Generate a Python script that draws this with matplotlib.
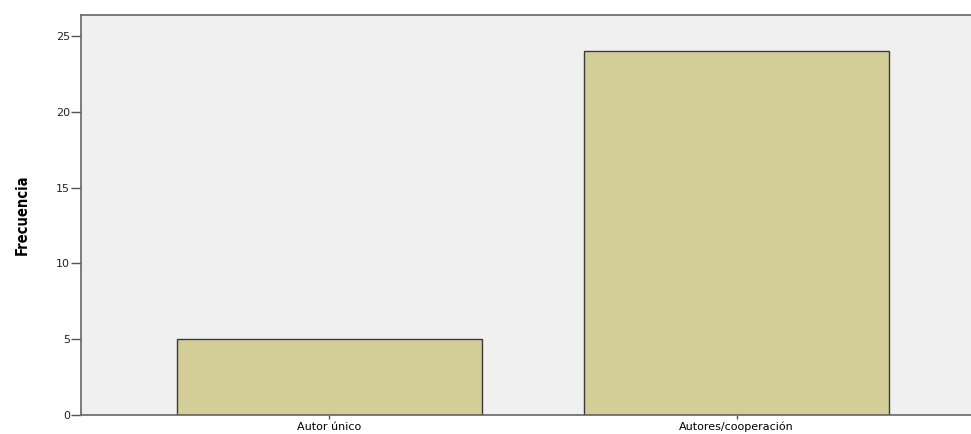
import matplotlib
matplotlib.use("agg")
import matplotlib.pyplot as plt

categories = ["Autor único", "Autores/cooperación"]
frequencies = [5, 24]
y_ticks = [0, 5, 10, 15, 20, 25]

fig = plt.figure(figsize=(9.71, 4.34), dpi=100)
fig.patch.set_facecolor("white")
ax = fig.add_axes([81 / 971, 19 / 434, 904 / 971, 400 / 434])
ax.set_facecolor("#F0F0F0")

# Bars
positions = list(range(len(categories)))
ax.bar(positions, frequencies, width=0.75, color="#D3CD98",
       edgecolor="#3a3a3a", linewidth=1.0, zorder=2)

ax.set_xlim(-0.61, 1.61)
ax.set_ylim(0, 26.38)
ax.set_xticks(positions)
ax.set_xticklabels(categories, fontsize=8, family="DejaVu Sans")
ax.set_yticks(y_ticks)
ax.set_yticklabels([str(t) for t in y_ticks], fontsize=8,
                   family="DejaVu Sans", color="#222222")

ax.tick_params(axis="y", length=7, width=1, color="#555555", pad=1)
ax.tick_params(axis="x", length=3, width=1, color="#555555", pad=2)

for side in ["left", "bottom", "top"]:
    ax.spines[side].set_color("#666666")
    ax.spines[side].set_linewidth(1.2)
ax.spines["right"].set_visible(False)

ax.set_ylabel("Frecuencia", fontsize=10.5, fontweight="bold",
              fontstretch="condensed",
              family=["DejaVu Sans"], labelpad=19)

fig.savefig("out.png", dpi=100)
plt.close()
